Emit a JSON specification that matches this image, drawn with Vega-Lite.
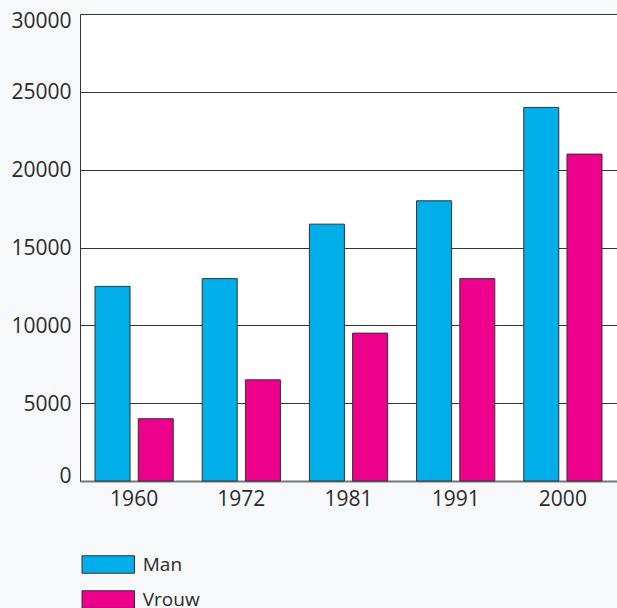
{
  "$schema": "https://vega.github.io/schema/vega-lite/v6.json",
  "width": 537,
  "height": 467,
  "autosize": {"type": "none"},
  "padding": {"left": 80, "top": 14, "right": 0, "bottom": 127},
  "background": "#f7f8fa",
  "data": {
    "values": [
      {"jaar": "1960", "geslacht": "Man", "aantal": 12500},
      {"jaar": "1960", "geslacht": "Vrouw", "aantal": 4000},
      {"jaar": "1972", "geslacht": "Man", "aantal": 13000},
      {"jaar": "1972", "geslacht": "Vrouw", "aantal": 6500},
      {"jaar": "1981", "geslacht": "Man", "aantal": 16500},
      {"jaar": "1981", "geslacht": "Vrouw", "aantal": 9500},
      {"jaar": "1991", "geslacht": "Man", "aantal": 18000},
      {"jaar": "1991", "geslacht": "Vrouw", "aantal": 13000},
      {"jaar": "2000", "geslacht": "Man", "aantal": 24000},
      {"jaar": "2000", "geslacht": "Vrouw", "aantal": 21000}
    ]
  },
  "config": {
    "view": {"fill": "white", "stroke": null},
    "font": "Open Sans"
  },
  "mark": {"type": "bar", "stroke": "#333333", "strokeWidth": 1},
  "encoding": {
    "x": {
      "field": "jaar",
      "type": "nominal",
      "scale": {"paddingInner": 0.27, "paddingOuter": 0.14},
      "axis": {
        "title": null,
        "labelAngle": 0,
        "labelFontSize": 21,
        "labelColor": "#2a2a2a",
        "labelPadding": 7,
        "ticks": false,
        "domainColor": "#777777",
        "domainWidth": 2
      }
    },
    "xOffset": {
      "field": "geslacht",
      "type": "nominal",
      "scale": {"paddingInner": 0.19, "paddingOuter": 0}
    },
    "y": {
      "field": "aantal",
      "type": "quantitative",
      "scale": {"domain": [0, 30000], "nice": false},
      "axis": {
        "title": null,
        "values": [0, 5000, 10000, 15000, 20000, 25000, 30000],
        "format": "d",
        "labelFontSize": 21,
        "labelColor": "#2a2a2a",
        "labelPadding": 9,
        "labelOffset": {
          "condition": [
            {"test": "datum.value == 30000", "value": 7},
            {"test": "datum.value == 0", "value": -5}
          ],
          "value": 1
        },
        "ticks": false,
        "grid": true,
        "gridColor": "#333333",
        "gridWidth": 1,
        "gridOpacity": 1,
        "domainColor": "#333333",
        "domainWidth": 1
      }
    },
    "fill": {
      "field": "geslacht",
      "type": "nominal",
      "scale": {"domain": ["Man", "Vrouw"], "range": ["#00aeea", "#ec008c"]},
      "legend": {
        "title": null,
        "orient": "none",
        "legendX": 18.75,
        "legendY": 541,
        "direction": "vertical",
        "padding": 0,
        "symbolType": "M-3,-1h6v2h-6z",
        "symbolSize": 306,
        "symbolStrokeColor": "#333333",
        "symbolStrokeWidth": 1,
        "labelFontSize": 19,
        "labelColor": "#2a2a2a",
        "labelOffset": 25,
        "rowPadding": 12
      }
    }
  }
}
